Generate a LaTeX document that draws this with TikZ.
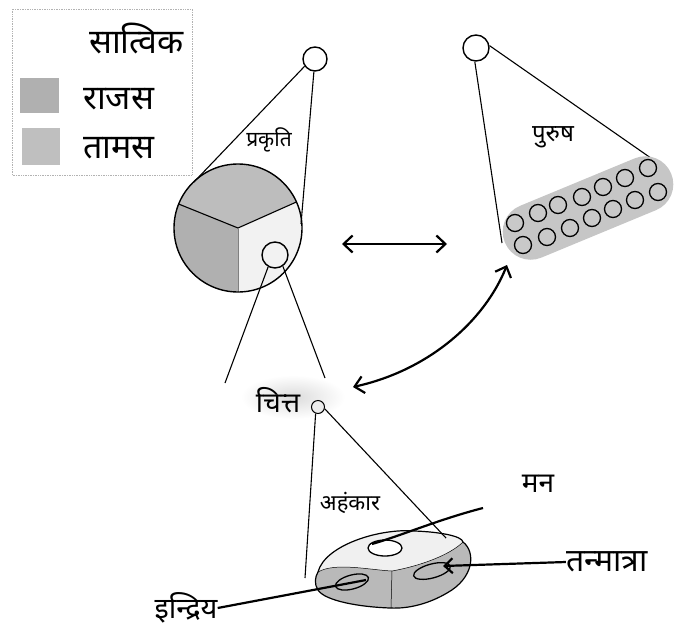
\documentclass[tikz,border=0pt]{standalone}
\usepackage{fontspec}
\newfontfamily\dev[Script=Devanagari]{Noto Sans}
\usetikzlibrary{arrows.meta}
\begin{document}
\begin{tikzpicture}[x=1pt,y=-1pt,
  thinline/.style={line width=1.1pt},
  thickline/.style={line width=2.2pt},
  ring/.style={circle,draw,line width=1.4pt,inner sep=0pt},
  lbl/.style={font=\dev\fontsize{#1}{#1}\selectfont, inner sep=0pt},
  dbl/.style={line width=2.2pt,{Straight Barb[length=9pt,width=17pt]}-{Straight Barb[length=9pt,width=17pt]}},
]
\useasboundingbox (0,0) rectangle (685,627);

% ---------------- legend
\draw[gray!60, densely dotted, line width=0.7pt] (12,9) rectangle (192,175);
\fill[gray!62] (20,78) rectangle (59,113);
\fill[gray!50] (22,128) rectangle (60,165);
\node[lbl=34, anchor=west] (sat) at (89,39) {सात्विक};
\node[lbl=34, anchor=west] (raj) at (83,99) {राजस};
\node[lbl=34, anchor=west] (tam) at (83,148) {तामस};

% ---------------- prakriti
\coordinate (pc) at (238,228);
\fill[gray!52] (pc) -- ++(-24:64) arc[start angle=-24,end angle=-158,radius=64] -- cycle;
\fill[gray!62] (pc) -- ++(-158:64) arc[start angle=-158,end angle=-270,radius=64] -- cycle;
\fill[gray!10] (pc) -- ++(90:64) arc[start angle=90,end angle=-24,radius=64] -- cycle;
\draw[thinline] (pc) -- ++(-158:64) (pc) -- ++(-24:64);
\draw[line width=0.5pt, gray] (pc) -- ++(90:64);
\draw[line width=1.4pt] (pc) circle[radius=64];
\node[ring, fill=white, minimum size=24pt] (pk) at (315,59) {};
\node[ring, fill=gray!10, minimum size=26pt] (pk2) at (275,255) {};
\coordinate (pkl) at (194,182);
\coordinate (pkr) at (301,224);
\draw[thinline] (pk.215) -- (pkl);
\draw[thinline] (pk.265) -- (pkr);
\node[lbl=21] (prak) at (269,140) {प्रकृति};
\coordinate (cl) at (225,383);
\coordinate (cr) at (325,378);
\draw[thinline] (pk2.240) -- (cl);
\draw[thinline] (pk2.305) -- (cr);

% ---------------- purusha
\node[ring, fill=white, minimum size=26pt] (pu) at (476,48) {};
\coordinate (pul) at (502,243);
\coordinate (pur) at (658,163);
\draw[thinline] (pu.265) -- (pul);
\draw[thinline] (pu.10) -- (pur);
\node[lbl=24] (puru) at (553,137) {पुरुष};
\begin{scope}[shift={(588,208)}, rotate=22.5]
  \fill[gray!45, rounded corners=27.9pt] (-90,-28) rectangle (90,28);
\end{scope}
\foreach \p in {(515,223),(538,213),(558,205),(582,197),(603,187),(625,178),(648,168),
                (523,245),(547,237),(570,228),(592,218),(613,209),(635,200),(658,192)}
  \draw[line width=1.3pt, fill=gray!42] \p circle[radius=8.5];

% ---------------- arrows
\coordinate (ha) at (342,244);
\coordinate (hb) at (447,244);
\draw[dbl] (ha) -- (hb);

% ---------------- chitta
\shade[inner color=gray!28, outer color=white] (293,397) ellipse (52 and 22);
\node[lbl=28] (chit) at (278,400) {चित्त};
\node[ring, line width=1pt, fill=gray!15, minimum size=13pt] (cc) at (318,407) {};
\coordinate (ca) at (353,387);
\coordinate (cb) at (507,265);
\draw[dbl] (ca) .. controls (430,370) and (485,320) .. (cb);

% ---------------- ahankara disk
\coordinate (al) at (305,578);
\coordinate (ar) at (446,538);
\def\topface{(318,572) .. controls (325,545) and (380,528) .. (415,531)
  .. controls (440,532) and (462,536) .. (463,542)}
\fill[gray!55] \topface .. controls (476,552) and (474,578) .. (447,593)
  .. controls (430,603) and (410,609) .. (390,608)
  .. controls (360,607) and (325,601) .. (318,590)
  .. controls (314,584) and (315,577) .. (318,572) -- cycle;
\fill[gray!12] \topface .. controls (450,555) and (420,566) .. (392,571)
  .. controls (370,570) and (335,562) .. (318,572) -- cycle;
\draw[line width=1.2pt] \topface .. controls (476,552) and (474,578) .. (447,593)
  .. controls (430,603) and (410,609) .. (390,608)
  .. controls (360,607) and (325,601) .. (318,590)
  .. controls (314,584) and (315,577) .. (318,572) -- cycle;
\draw[line width=0.5pt] (463,542) .. controls (450,555) and (420,566) .. (392,571)
  .. controls (370,570) and (335,562) .. (318,572);
\draw[line width=0.5pt] (392,571) -- (391,608);
\draw[line width=1.3pt, fill=white] (385,548) ellipse (17 and 8);
\draw[line width=1.3pt, fill=gray!55, rotate around={15:(352,582)}] (352,582) ellipse (17 and 7);
\draw[line width=1.3pt, fill=gray!55, rotate around={15:(432,571)}] (432,571) ellipse (19 and 7);
\draw[thinline] (cc.250) -- (al);
\draw[thinline] (cc.345) -- (ar);
\node[lbl=22] (ahan) at (350,503) {अहंकार};

% ---------------- labels of the disk
\node[lbl=28] (man) at (538,484) {मन};
\node[lbl=32] (tanm) at (607,562) {तन्मात्रा};
\node[lbl=29] (indr) at (186,608) {इन्द्रिय};
\coordinate (manl) at (483,508);
\coordinate (manh) at (372,544);
\coordinate (tanh) at (443,566);
\coordinate (indh) at (366,580);
\draw[thickline] (manl) .. controls (440,519) and (400,536) .. (manh);
\draw[thickline, -{Straight Barb[length=8pt,width=15pt]}] (tanm.west) -- (tanh);
\draw[thickline] (indr.east) -- (indh);
\end{tikzpicture}
\end{document}
